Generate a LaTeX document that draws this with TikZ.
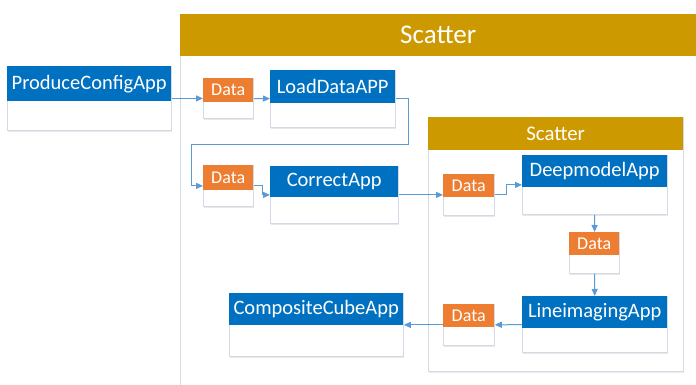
\documentclass[tikz,border=0pt]{standalone}
\usepackage{fontspec}
\setmainfont{Carlito}
\usetikzlibrary{arrows.meta,shadows}
\definecolor{appblue}{HTML}{0070C0}
\definecolor{dataorange}{HTML}{ED7D31}
\definecolor{goldhead}{HTML}{CC9900}
\definecolor{connblue}{HTML}{5B9BD5}
\definecolor{framegray}{HTML}{D3DAE5}
\tikzset{
  boxbody/.style={draw=framegray, fill=white, line width=0.8pt, anchor=north west, inner sep=0pt,
    drop shadow={opacity=0.18, shadow xshift=1pt, shadow yshift=-1.2pt}},
  framebox/.style={draw=framegray, fill=white, line width=0.9pt, anchor=north west, inner sep=0pt,
    drop shadow={opacity=0.15, shadow xshift=1pt, shadow yshift=-1.2pt}},
  apphead/.style={fill=appblue, text=white, anchor=north west, inner sep=0pt, font=\fontsize{20.5}{24}\selectfont},
  datahead/.style={fill=dataorange, text=white, anchor=north west, inner sep=0pt, font=\fontsize{18}{21}\selectfont},
  scatterhead/.style={fill=goldhead, text=white, anchor=north west, inner sep=0pt},
  connector/.style={draw=connblue, line width=1pt, -{Triangle[length=7pt,width=6pt]}},
}
\begin{document}
\begin{tikzpicture}[x=1pt,y=-1pt]
\useasboundingbox (0,0) rectangle (696,385);
\clip (0,0) rectangle (696,385);

% outer Scatter
\node[framebox, minimum width=530pt, minimum height=400pt] (outer) at (180,14) {};
\node[scatterhead, minimum width=516pt, minimum height=42pt, font=\fontsize{27}{32}\selectfont] (outerh) at (180,14) {Scatter};

% inner Scatter
\node[framebox, minimum width=255pt, minimum height=254pt] (inner) at (428,117) {};
\node[scatterhead, minimum width=255pt, minimum height=33pt, font=\fontsize{20.8}{24}\selectfont] (innerh) at (428,117) {Scatter};

% ProduceConfigApp
\node[boxbody, minimum width=164pt, minimum height=64pt] (pca) at (7,66) {};
\node[apphead, minimum width=164pt, minimum height=35pt] (pcah) at (7,66) {ProduceConfigApp};

% Data 1
\node[boxbody, minimum width=50pt, minimum height=40pt] (d1) at (203,78) {};
\node[datahead, minimum width=50pt, minimum height=24pt] (d1h) at (203,78) {Data};

% LoadDataAPP
\node[boxbody, minimum width=125pt, minimum height=57pt] (lda) at (270,70) {};
\node[apphead, minimum width=125pt, minimum height=33pt] (ldah) at (270,70) {LoadDataAPP};

% Data 2
\node[boxbody, minimum width=50pt, minimum height=41pt] (d2) at (203,165) {};
\node[datahead, minimum width=50pt, minimum height=25pt] (d2h) at (203,165) {Data};

% CorrectApp
\node[boxbody, minimum width=128pt, minimum height=57pt] (ca) at (270,166) {};
\node[apphead, minimum width=128pt, minimum height=31pt] (cah) at (270,166) {CorrectApp};

% Data 3
\node[boxbody, minimum width=51pt, minimum height=41pt] (d3) at (443,174) {};
\node[datahead, minimum width=51pt, minimum height=23pt] (d3h) at (443,174) {Data};

% DeepmodelApp
\node[boxbody, minimum width=145pt, minimum height=59pt] (dma) at (522,155) {};
\node[apphead, minimum width=145pt, minimum height=32pt] (dmah) at (522,155) {DeepmodelApp};

% Data 4
\node[boxbody, minimum width=50pt, minimum height=41pt] (d4) at (569,232) {};
\node[datahead, minimum width=50pt, minimum height=23pt] (d4h) at (569,232) {Data};

% LineimagingApp
\node[boxbody, minimum width=145pt, minimum height=56pt] (lia) at (522,296) {};
\node[apphead, minimum width=145pt, minimum height=32pt] (liah) at (522,296) {LineimagingApp};

% Data 5
\node[boxbody, minimum width=51pt, minimum height=41pt] (d5) at (443,304) {};
\node[datahead, minimum width=51pt, minimum height=23pt] (d5h) at (443,304) {Data};

% CompositeCubeApp
\node[boxbody, minimum width=174pt, minimum height=63pt] (cca) at (229,293) {};
\node[apphead, minimum width=174pt, minimum height=32pt] (ccah) at (229,293) {CompositeCubeApp};

% connectors
\coordinate (t1) at (408,145);
\coordinate (t2) at (191,145);
\draw[connector] (pca) -- (d1);
\draw[connector] (d1) -- (lda);
\draw[connector] (lda.east) -| (t1) -- (t2) |- (d2.west);
\draw[connector] (d2.east) -- ++(9,0) |- (ca.west);
\draw[connector] (ca) -- (d3);
\draw[connector] (d3.east) -- ++(12,0) |- (dma.west);
\draw[connector] (dma) -- (d4);
\draw[connector] (d4) -- (lia);
\draw[connector] (lia) -- (d5);
\draw[connector] (d5) -- (cca);
\end{tikzpicture}
\end{document}
